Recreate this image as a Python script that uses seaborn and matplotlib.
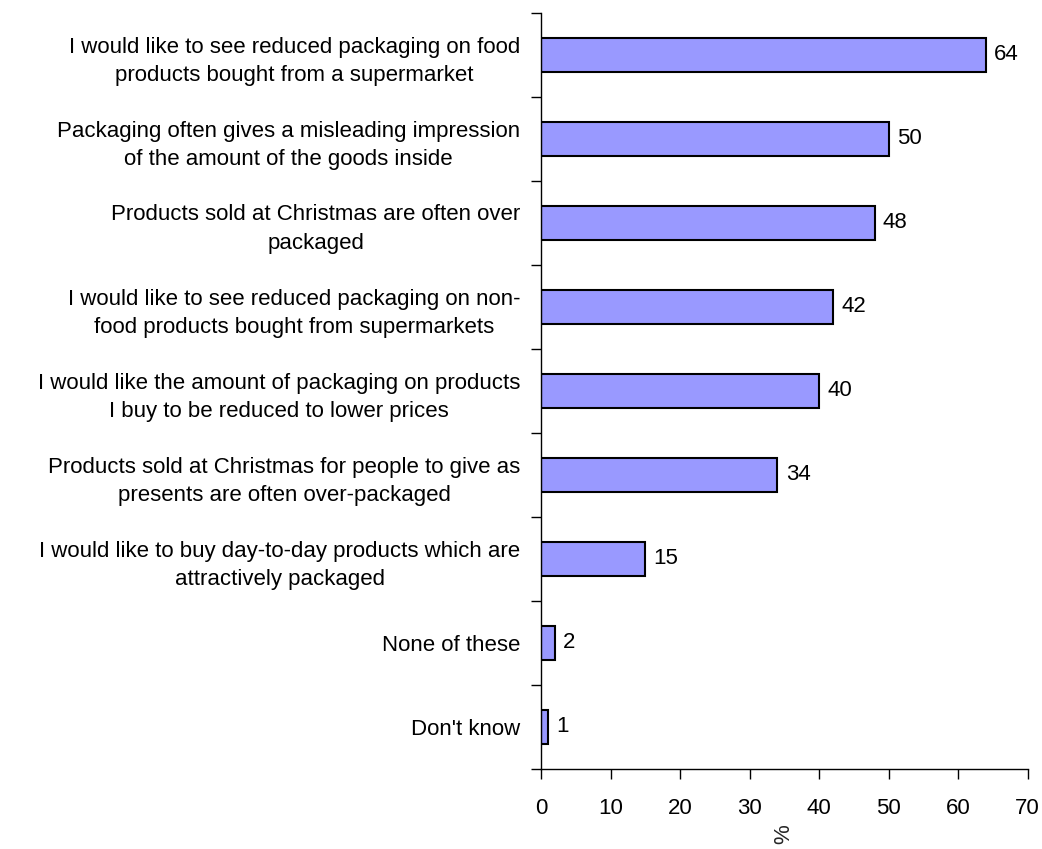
import matplotlib
matplotlib.use("Agg")
import matplotlib.pyplot as plt
import seaborn as sns
import pandas as pd
import numpy as np

statements = [
    "I would like to see reduced packaging on food\nproducts bought from a supermarket",
    "Packaging often gives a misleading impression\nof the amount of the goods inside",
    "Products sold at Christmas are often over\npackaged",
    "I would like to see reduced packaging on non-\nfood products bought from supermarkets",
    "I would like the amount of packaging on products\nI buy to be reduced to lower prices",
    "Products sold at Christmas for people to give as\npresents are often over-packaged",
    "I would like to buy day-to-day products which are\nattractively packaged",
    "None of these",
    "Don't know",
]
percentages = [64, 50, 48, 42, 40, 34, 15, 2, 1]
x_ticks = [0, 10, 20, 30, 40, 50, 60, 70]

sns.set_style("white")
plt.rcParams["font.family"] = ["Liberation Sans", "DejaVu Sans"]
plt.rcParams["text.color"] = "black"
plt.rcParams["xtick.color"] = "black"
plt.rcParams["ytick.color"] = "black"

FS = 16

df = pd.DataFrame({"statement": statements, "pct": percentages})

fig = plt.figure(figsize=(10.42, 8.49), dpi=100)
ax = fig.add_axes([541 / 1042, 1 - 769 / 849, (1027.5 - 541) / 1042, (769 - 13) / 849])

sns.barplot(data=df, y="statement", x="pct", orient="h", color="#9999FF",
            edgecolor="black", linewidth=1.5, width=0.4, saturation=1, ax=ax)

for i, v in enumerate(percentages):
    ax.text(v + 1.2, i, f"{v}", va="center", ha="left", fontsize=FS, color="black")

ax.set_xlim(0, 70)
ax.set_ylim(len(statements) - 0.5, -0.5)
ax.set_xticks(x_ticks)
ax.set_xticklabels([str(t) for t in x_ticks], fontsize=FS)
ax.set_yticks(range(len(statements)))
ax.set_yticklabels(statements, fontsize=FS, multialignment="center", linespacing=1.45)
ax.set_yticks(np.arange(-0.5, len(statements), 1), minor=True)
ax.tick_params(axis="y", which="major", left=True, length=0, pad=15)
ax.tick_params(axis="y", which="minor", left=True, length=7, width=1, direction="out")
ax.tick_params(axis="x", which="major", bottom=True, length=7, width=1, direction="out", pad=14)
ax.set_ylabel("")
ax.set_xlabel("%", rotation=90, fontsize=FS, labelpad=4)

for side in ["top", "right"]:
    ax.spines[side].set_visible(False)
for side in ["left", "bottom"]:
    ax.spines[side].set_color("black")
    ax.spines[side].set_linewidth(1)

fig.savefig("out.png", dpi=100)
